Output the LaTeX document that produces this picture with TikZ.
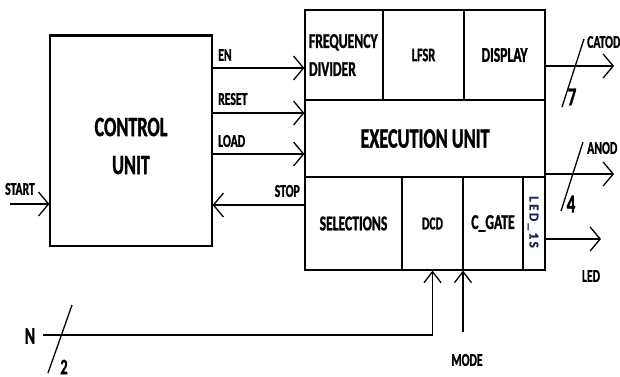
\documentclass[tikz,border=0pt]{standalone}
\usepackage{fontspec}
\setmainfont{Carlito}[FakeStretch=0.65, BoldFeatures={FakeBold=1.2}]
\newfontfamily\ledfont{Carlito}[BoldFeatures={FakeBold=0.8}]
\usetikzlibrary{arrows.meta,calc}
\definecolor{navy}{RGB}{25,35,80}
\begin{document}
\begin{tikzpicture}[x=1pt,y=-1pt,
  cell/.style={draw=black, line width=1.2pt, inner sep=0pt, align=center},
  lbl/.style={inner sep=0pt, font=\bfseries\fontsize{18}{20}\selectfont},
  digit/.style={inner sep=0pt, font=\bfseries\fontsize{26}{28}\selectfont},
  sig/.style={line width=1.8pt, -{Straight Barb[length=10pt,width=24pt,line width=1.3pt]}},
  sigup/.style={line width=1.5pt, -{Straight Barb[length=11pt,width=17pt,line width=1.3pt]}},
  slash/.style={line width=1.3pt}
]
\useasboundingbox (0,0) rectangle (620,376);

% control unit
\node[cell, minimum width=162pt, minimum height=210pt] (cu) at (131,141) {};
\draw[line width=2.8pt] (cu.north west) -- (cu.north east);
\node[inner sep=0pt, align=center, font=\bfseries\fontsize{28}{38}\selectfont] (cutext) at (131,146) {CONTROL\\UNIT};

% execution block cells
\node[cell, minimum width=78pt, minimum height=90pt, text width=70pt, align=left, inner xsep=4pt,
      font=\bfseries\fontsize{21}{28}\selectfont] (freq) at (344,55) {FREQUENCY\\DIVIDER};
\node[cell, minimum width=81pt, minimum height=90pt, font=\bfseries\fontsize{19}{22}\selectfont] (lfsr) at (423.5,55) {LFSR};
\node[cell, minimum width=81pt, minimum height=90pt, font=\bfseries\fontsize{21}{24}\selectfont] (disp) at (504.5,55) {DISPLAY};
\node[cell, minimum width=240pt, minimum height=77pt, font=\bfseries\fontsize{28}{32}\selectfont] (exe) at (425,138.5) {EXECUTION UNIT};
\node[cell, minimum width=97pt, minimum height=93pt, font=\bfseries\fontsize{21}{24}\selectfont] (sel) at (353.5,223.5) {SELECTIONS};
\node[cell, minimum width=61pt, minimum height=93pt, font=\bfseries\fontsize{18}{20}\selectfont] (dcd) at (432.5,223.5) {\raisebox{-3pt}{DCD}};
\node[cell, minimum width=60pt, minimum height=93pt, font=\bfseries\fontsize{21}{24}\selectfont] (cgate) at (493,223.5) {C\_GATE};
\node[cell, minimum width=22pt, minimum height=93pt] (led) at (534,223.5) {};
\node[inner sep=0pt, rotate=-90, text=navy, font=\ledfont\bfseries\fontsize{13.5}{15}\selectfont] (ledtext) at (533,222)
  {L\kern2.2pt E\kern2.2pt D\kern2.2pt\_\kern2.2pt 1\kern2.2pt S};

% control signals
\draw[sig] (cu.east |- 0,68) -- (freq.west |- 0,68);
\draw[sig] (cu.east |- 0,113) -- (exe.west |- 0,113);
\draw[sig] (cu.east |- 0,154) -- (exe.west |- 0,154);
\draw[sig] (sel.west |- 0,205) -- (cu.east |- 0,205);
\node[lbl, anchor=west] (en) at (218,55) {EN};
\node[lbl, anchor=west] (reset) at (218,99) {RESET};
\node[lbl, anchor=west] (load) at (218,141) {LOAD};
\node[lbl, anchor=east] (stop) at (300,191) {STOP};

% start
\coordinate (startpt) at (10,204);
\draw[sig, line width=2.4pt] (startpt) -- (cu.west |- startpt);
\node[lbl, anchor=west] (start) at (5,189) {START};

% outputs
\coordinate (catend) at (614,66);
\draw[sig] (disp.east |- catend) -- (catend);
\draw[slash] (562,107) -- (584,39);
\node[lbl, anchor=west] (catod) at (587,42) {CATOD};
\node[digit] (seven) at (572,97) {7};

\coordinate (anodend) at (614,174);
\draw[sig] (exe.east |- anodend) -- (anodend);
\draw[slash] (561,211) -- (583,142);
\node[lbl, anchor=west] (anod) at (587,148) {ANOD};
\node[digit] (four) at (571,204) {4};

\coordinate (ledend) at (601,239);
\draw[sig] (led.east |- ledend) -- (ledend);
\node[lbl] (ledlbl) at (591,276) {LED};

% N and MODE
\coordinate (nstart) at (43,335);
\draw[sigup] (nstart) -| (dcd.south);
\draw[slash] (48,373) -- (72,305);
\node[inner sep=0pt, font=\bfseries\fontsize{24}{26}\selectfont] (nlbl) at (30,336) {N};
\node[inner sep=0pt, font=\bfseries\fontsize{22}{24}\selectfont] (two) at (64,367) {2};

\coordinate (modept) at (463,332);
\draw[sigup] (modept) -- (modept |- sel.south);
\node[lbl] (mode) at (467,360) {MODE};
\end{tikzpicture}
\end{document}
